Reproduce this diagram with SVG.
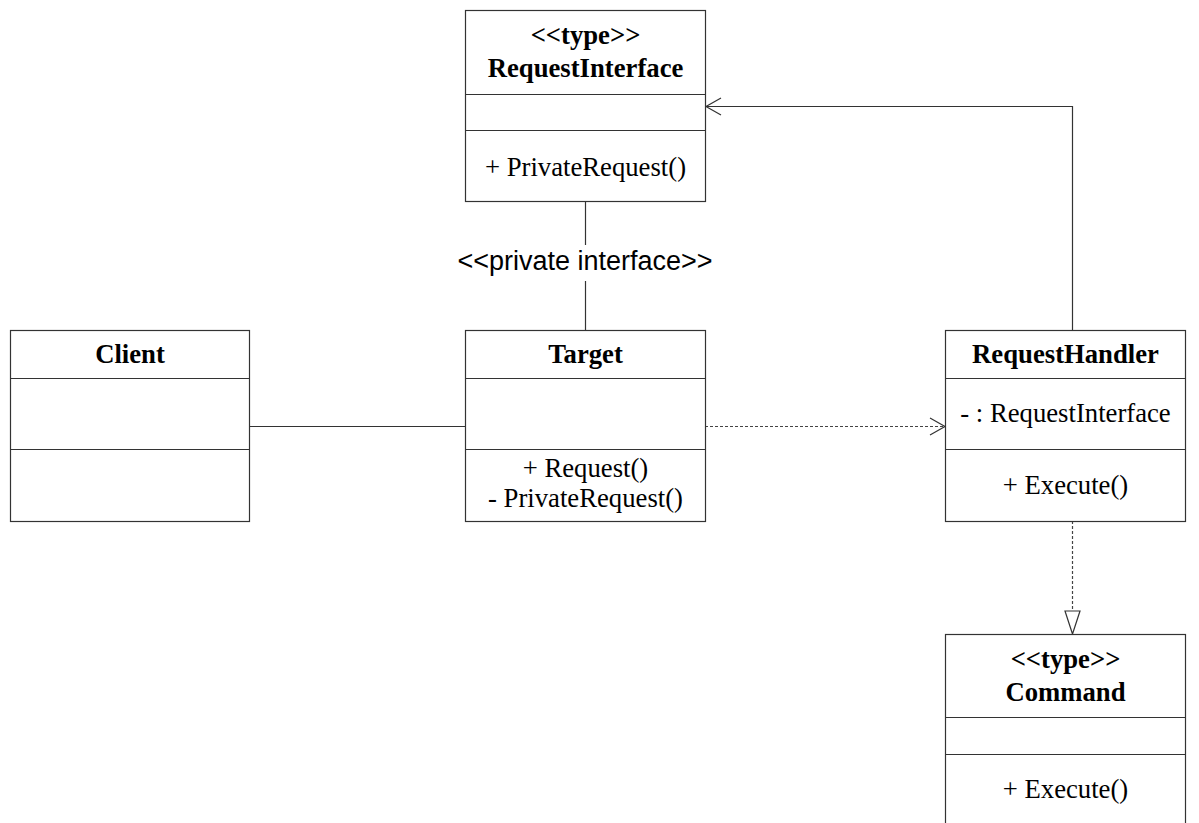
<svg xmlns="http://www.w3.org/2000/svg" width="1199" height="823" viewBox="0 0 1199 823">
<style>
.box{fill:#fff;stroke:#333;stroke-width:1.2}
.div{stroke:#333;stroke-width:1.2}
.t{font-family:"Liberation Serif","Times New Roman",serif;font-size:26.7px;fill:#000;text-anchor:middle}
.b{font-weight:bold}
.s{font-family:"Liberation Sans",Arial,sans-serif;font-size:27px;fill:#000;text-anchor:middle}
.ln{fill:none;stroke:#333;stroke-width:1.2}
.dash{fill:none;stroke:#444;stroke-width:1.2;stroke-dasharray:3,2}
</style>
<rect width="1199" height="823" fill="#fff"/>
<g id="connectors">
  <line class="ln" x1="250" y1="426.5" x2="465" y2="426.5"/>
  <line class="ln" x1="585.5" y1="201" x2="585.5" y2="245"/>
  <line class="ln" x1="585.5" y1="281" x2="585.5" y2="330"/>
  <text class="s" x="585" y="270">&lt;&lt;private interface&gt;&gt;</text>
  <line class="dash" x1="705" y1="426.5" x2="944" y2="426.5"/>
  <polyline class="ln" points="930,418 945,426.5 930,435"/>
  <polyline class="ln" points="1072.5,330 1072.5,106.5 706,106.5"/>
  <polyline class="ln" points="721,98 706,106.5 721,115"/>
  <line class="dash" x1="1072.5" y1="521" x2="1072.5" y2="611"/>
  <polygon class="box" points="1065,611 1080,611 1072.5,634"/>
</g>
<g id="RequestInterface">
  <rect class="box" x="465.5" y="10.5" width="240" height="191"/>
  <line class="div" x1="465.5" y1="94.5" x2="705.5" y2="94.5"/>
  <line class="div" x1="465.5" y1="130.5" x2="705.5" y2="130.5"/>
  <text class="t b" x="585.5" y="44">&lt;&lt;type&gt;&gt;</text>
  <text class="t b" x="585.5" y="77">RequestInterface</text>
  <text class="t" x="585.5" y="176">+ PrivateRequest()</text>
</g>
<g id="Client">
  <rect class="box" x="10.5" y="330.5" width="239" height="191"/>
  <line class="div" x1="10.5" y1="378.5" x2="249.5" y2="378.5"/>
  <line class="div" x1="10.5" y1="449.5" x2="249.5" y2="449.5"/>
  <text class="t b" x="130" y="363">Client</text>
</g>
<g id="Target">
  <rect class="box" x="465.5" y="330.5" width="240" height="191"/>
  <line class="div" x1="465.5" y1="378.5" x2="705.5" y2="378.5"/>
  <line class="div" x1="465.5" y1="449.5" x2="705.5" y2="449.5"/>
  <text class="t b" x="585.5" y="363">Target</text>
  <text class="t" x="585.5" y="477">+ Request()</text>
  <text class="t" x="585.5" y="507">- PrivateRequest()</text>
</g>
<g id="RequestHandler">
  <rect class="box" x="945.5" y="330.5" width="240" height="191"/>
  <line class="div" x1="945.5" y1="378.5" x2="1185.5" y2="378.5"/>
  <line class="div" x1="945.5" y1="449.5" x2="1185.5" y2="449.5"/>
  <text class="t b" x="1065.5" y="363">RequestHandler</text>
  <text class="t" x="1065.5" y="422">- : RequestInterface</text>
  <text class="t" x="1065.5" y="494">+ Execute()</text>
</g>
<g id="Command">
  <rect class="box" x="945.5" y="634.5" width="240" height="192"/>
  <line class="div" x1="945.5" y1="717.5" x2="1185.5" y2="717.5"/>
  <line class="div" x1="945.5" y1="754.5" x2="1185.5" y2="754.5"/>
  <text class="t b" x="1065.5" y="668">&lt;&lt;type&gt;&gt;</text>
  <text class="t b" x="1065.5" y="701">Command</text>
  <text class="t" x="1065.5" y="798">+ Execute()</text>
</g>
</svg>
